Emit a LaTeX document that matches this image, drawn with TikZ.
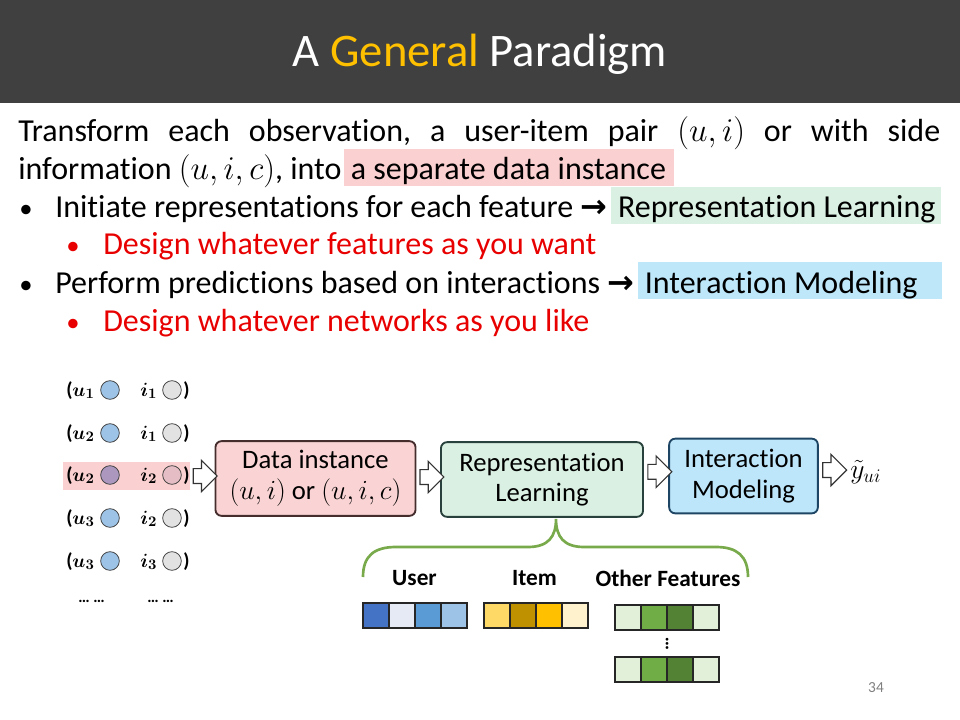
\documentclass[tikz,border=0pt]{standalone}
\usepackage{fontspec}
\usepackage{bm}
\setmainfont[Ligatures=NoCommon]{Carlito}
\newfontfamily\arrowfont{DejaVu Sans}
\usetikzlibrary{shapes.arrows,calc}
\definecolor{titlebg}{RGB}{64,64,64}
\definecolor{titlegold}{RGB}{255,192,0}
\definecolor{hlpink}{RGB}{250,208,208}
\definecolor{hlgreen}{RGB}{218,240,226}
\definecolor{hlblue}{RGB}{190,232,250}
\definecolor{bodyred}{RGB}{232,0,0}
\definecolor{datafill}{RGB}{250,212,212}
\definecolor{dataline}{RGB}{70,45,45}
\definecolor{repfill}{RGB}{218,240,226}
\definecolor{repline}{RGB}{40,65,60}
\definecolor{intfill}{RGB}{190,230,250}
\definecolor{intline}{RGB}{30,70,100}
\definecolor{bracegreen}{RGB}{120,170,75}
\definecolor{ublue}{RGB}{157,195,230}
\definecolor{igray}{RGB}{226,226,226}
\definecolor{upurple}{RGB}{172,152,190}
\definecolor{ipink}{RGB}{228,190,196}
\definecolor{rowpink}{RGB}{250,208,208}
\definecolor{cA}{RGB}{68,114,196}
\definecolor{cB}{RGB}{230,234,245}
\definecolor{cC}{RGB}{91,155,213}
\definecolor{cD}{RGB}{157,195,230}
\definecolor{yA}{RGB}{255,217,102}
\definecolor{yB}{RGB}{191,144,0}
\definecolor{yC}{RGB}{255,192,0}
\definecolor{yD}{RGB}{255,242,204}
\definecolor{gA}{RGB}{226,240,217}
\definecolor{gB}{RGB}{112,173,71}
\definecolor{gC}{RGB}{84,130,53}
\definecolor{pagegray}{RGB}{128,128,128}
\newcommand\hlbox[4]{{\setlength{\fboxsep}{0pt}\colorbox{#1}{\rule[-4.5pt]{0pt}{27.75pt}\hspace*{#2}#4\hspace*{#3}}}}
\newcommand\bigarrow{{\arrowfont\bfseries →}}
\begin{document}
\begin{tikzpicture}[x=0.75pt,y=-0.75pt,
  bodytext/.style={anchor=base west,inner sep=0pt,font=\fontsize{24}{29}\selectfont},
  bulletmark/.style={anchor=base,inner sep=0pt,font=\fontsize{20}{24}\selectfont},
  flowbox/.style={draw,rounded corners=4.5pt,line width=1.4pt,minimum width=150pt,minimum height=56pt,align=center,font=\fontsize{20}{23}\selectfont,inner sep=0pt},
  blockarrow/.style={single arrow,draw=black!80,fill=white,line width=0.8pt,minimum height=18pt,inner xsep=0pt,inner ysep=5.2pt,single arrow head extend=6.2pt},
  rowtext/.style={anchor=base west,inner sep=0pt,font=\fontsize{15}{17}\selectfont\bfseries},
  dot/.style={circle,draw=black!75,line width=0.6pt,minimum size=14pt,inner sep=0pt},
  cell/.style={draw=black!85,line width=0.8pt,minimum width=19.5pt,minimum height=18.75pt,inner sep=0pt},
  veclabel/.style={anchor=base,inner sep=0pt,font=\fontsize{17.5}{20}\selectfont\bfseries}]
\useasboundingbox (0,0) rectangle (960,720);
% title bar
\fill[titlebg] (0,0) rectangle (960,103);
\node[inner sep=0pt,anchor=base,text=white,font=\fontsize{35}{42}\selectfont] (title) at (480,67) {A \textcolor{titlegold}{General} Paradigm};
% body text
\node[bodytext] (l1) at (18,142) {\hbox to 691.5pt{Transform\hfill each\hfill observation,\hfill a\hfill user-item\hfill pair\hfill $(u,i)$\hfill or\hfill with\hfill side}};
\node[bodytext] (l2) at (18,180) {information $(u,i,c)$, into\hspace{2pt}\hlbox{hlpink}{5pt}{6pt}{a separate data instance}};
\node[bulletmark] (b1) at (26,218) {•};
\node[bodytext] (l3) at (55,218) {Initiate representations for each feature \bigarrow\hspace{3pt}\hlbox{hlgreen}{5pt}{4pt}{Representation Learning}};
\node[bulletmark,text=bodyred] (b2) at (73,255) {•};
\node[bodytext,text=bodyred] (l4) at (103,255) {Design whatever features as you want};
\node[bulletmark] (b3) at (26,293) {•};
\node[bodytext] (l5) at (55,293) {Perform predictions based on interactions \bigarrow\hspace{3pt}\hlbox{hlblue}{5pt}{18pt}{Interaction Modeling}};
\node[bulletmark,text=bodyred] (b4) at (73,331) {•};
\node[bodytext,text=bodyred] (l6) at (103,331) {Design whatever networks as you like};
% left list
\fill[rowpink] (63,462) rectangle (190,490);
\foreach \y/\u/\i/\uc/\ic [count=\k] in {396/1/1/ublue/igray, 439/2/1/ublue/igray, 481/2/2/upurple/ipink, 524/3/2/ublue/igray, 567/3/3/ublue/igray}{
  \node[rowtext] (ut\k) at (66,\y) {($\bm{u_{\u}}$};
  \node[dot,fill=\uc] (uc\k) at (110,\y-6) {};
  \node[rowtext] (it\k) at (140,\y) {$\bm{i_{\i}}$};
  \node[dot,fill=\ic] (ic\k) at (172,\y-6) {};
  \node[rowtext] (cp\k) at (183,\y) {)};
}
\node[rowtext,font=\fontsize{12}{14}\selectfont\bfseries] (dd1) at (78,602) {… …};
\node[rowtext,font=\fontsize{12}{14}\selectfont\bfseries] (dd2) at (147,602) {… …};
% flow boxes
\node[flowbox,fill=datafill,draw=dataline] (data) at (315.5,478.5) {Data instance\\$(u,i)$ or $(u,i,c)$};
\node[flowbox,fill=repfill,draw=repline,minimum width=151.5pt] (rep) at (542,479.5) {Representation\\Learning};
\node[flowbox,fill=intfill,draw=intline,minimum width=111.5pt] (int) at (743.5,476) {Interaction\\Modeling};
\node[anchor=west,inner sep=0pt,font=\fontsize{20}{23}\selectfont] (y) at (850,472) {$\tilde{y}_{ui}$};
\node[blockarrow] (a1) at (201.5,476) {};
\node[blockarrow] (a2) at ($(data.east)!0.5!(rep.west)+(0,-2)$) {};
\node[blockarrow] (a3) at ($(rep.east)!0.5!(int.west)+(0,-6)$) {};
\node[blockarrow] (a4) at (831,470) {};
% brace
\coordinate (btip) at (556,519);
\draw[bracegreen,line width=2pt] (363,577) .. controls (363,556) and (374,547) .. (396,547) -- (528,547) .. controls (548,547) and (556,537) .. (btip) .. controls (556,537) and (564,547) .. (584,547) -- (716,547) .. controls (737,547) and (748,556) .. (748,577);
% labels
\node[veclabel] (lu) at (414.5,585) {User};
\node[veclabel] (li) at (534.5,585) {Item};
\node[veclabel] (lo) at (668,586) {Other Features};
% vectors
\foreach \c [count=\k] in {cA,cB,cC,cD}{
  \node[cell,fill=\c] (u\k) at (363+26*\k-13,615.5) {};
}
\foreach \c [count=\k] in {yA,yB,yC,yD}{
  \node[cell,fill=\c] (v\k) at (484+26*\k-13,615.5) {};
}
\foreach \c [count=\k] in {gA,gB,gC,gA}{
  \node[cell,fill=\c] (o\k) at (615+26*\k-13,617.5) {};
  \node[cell,fill=\c] (p\k) at (615+26*\k-13,669.5) {};
}
\node[inner sep=0pt,font=\fontsize{14}{16}\selectfont\bfseries] (vd) at (667,644) {\rotatebox{90}{…}};
\node[inner sep=0pt,text=pagegray,font=\fontsize{11.5}{13}\selectfont] (pg) at (876,688) {34};
\end{tikzpicture}
\end{document}
